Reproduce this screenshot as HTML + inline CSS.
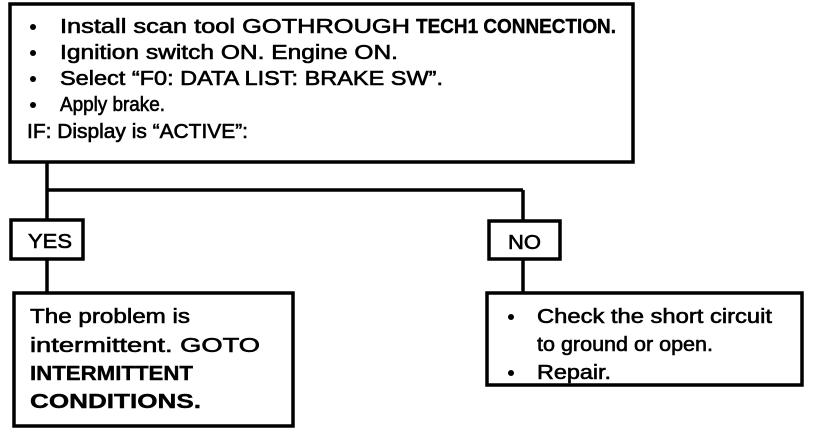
<!DOCTYPE html>
<html><head><meta charset="utf-8"><style>
html,body{margin:0;padding:0;background:#fff;width:816px;height:434px;overflow:hidden}
svg text{font-family:"Liberation Sans",Arial,sans-serif;font-size:20px;fill:#000;stroke:#000;stroke-width:0.6}
svg text.b{font-weight:bold;stroke-width:0.4}
</style></head><body>
<svg width="816" height="434" viewBox="0 0 816 434" xmlns="http://www.w3.org/2000/svg">
<g fill="none" stroke="#000" stroke-width="3.5">
<rect x="10" y="4" width="623" height="158"/>
<line x1="47" y1="162" x2="47" y2="219"/>
<line x1="47" y1="190" x2="523" y2="190"/>
<line x1="523" y1="190" x2="523" y2="221"/>
<rect x="11" y="220" width="72" height="39"/>
<rect x="489" y="221" width="71" height="38"/>
<line x1="47" y1="259" x2="47" y2="293"/>
<line x1="523" y1="259" x2="523" y2="293"/>
<rect x="14" y="293" width="279" height="133"/>
<rect x="487" y="293" width="315" height="92"/>
</g>
<g fill="#000">
<circle cx="33" cy="27" r="3"/><circle cx="33" cy="53" r="3"/><circle cx="33" cy="79" r="3"/><circle cx="33" cy="105" r="3"/>
<circle cx="511" cy="317" r="3"/><circle cx="511" cy="373" r="3"/>
</g>
<text x="60" y="33" textLength="350" lengthAdjust="spacingAndGlyphs">Install scan tool GOTHROUGH</text>
<text class="b" x="416" y="33" textLength="200" lengthAdjust="spacingAndGlyphs">TECH1 CONNECTION.</text>
<text x="60" y="59" textLength="338" lengthAdjust="spacingAndGlyphs">Ignition switch ON.  Engine ON.</text>
<text x="60" y="85" textLength="383" lengthAdjust="spacingAndGlyphs">Select “F0: DATA LIST: BRAKE SW”.</text>
<text x="60" y="111" textLength="105" lengthAdjust="spacingAndGlyphs">Apply brake.</text>
<text x="27" y="138" textLength="221" lengthAdjust="spacingAndGlyphs">IF: Display is “ACTIVE”:</text>
<text x="28" y="248" textLength="44" lengthAdjust="spacingAndGlyphs">YES</text>
<text x="508" y="249" textLength="33" lengthAdjust="spacingAndGlyphs">NO</text>
<text x="30" y="323" textLength="160" lengthAdjust="spacingAndGlyphs">The problem is</text>
<text x="30" y="352" textLength="230" lengthAdjust="spacingAndGlyphs">intermittent. GOTO</text>
<text class="b" x="30" y="380" textLength="163" lengthAdjust="spacingAndGlyphs">INTERMITTENT</text>
<text class="b" x="30" y="408" textLength="171" lengthAdjust="spacingAndGlyphs">CONDITIONS.</text>
<text x="537" y="323" textLength="235" lengthAdjust="spacingAndGlyphs">Check the short circuit</text>
<text x="537" y="351" textLength="176" lengthAdjust="spacingAndGlyphs">to ground or open.</text>
<text x="537" y="379" textLength="74" lengthAdjust="spacingAndGlyphs">Repair.</text>
</svg>
</body></html>
